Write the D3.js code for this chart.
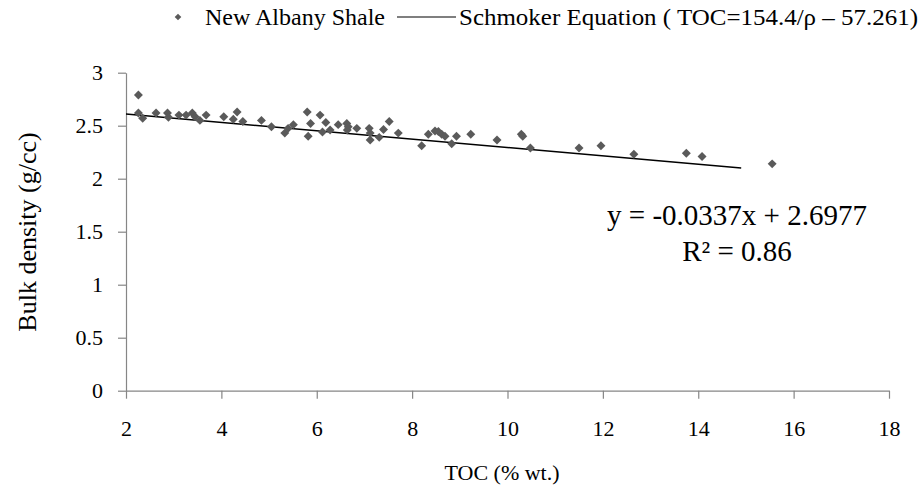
<!DOCTYPE html>
<html>
<head>
<meta charset="utf-8">
<script src="https://cdn.jsdelivr.net/npm/d3@7/dist/d3.min.js"></script>
<style>
  body { margin: 0; background: #fff; }
  #chart text { font-family: 'Liberation Serif' !important; }
</style>
</head>
<body>
<svg id="chart" width="924" height="491" font-family="Liberation Serif"></svg>
<script>
// New Albany Shale - bulk density vs TOC
const tocValues = [2.26, 2.26, 2.35, 2.63, 2.87, 2.89, 3.11, 3.26, 3.39, 3.45, 3.55, 3.68, 4.05, 4.25, 4.33, 4.45,
  4.84, 5.05, 5.33, 5.40, 5.51, 5.80, 5.82, 5.87, 6.07, 6.12, 6.19, 6.28, 6.45, 6.63, 6.64, 6.66, 6.84,
  7.10, 7.12, 7.12, 7.31, 7.40, 7.52, 7.71, 8.20, 8.34, 8.48, 8.55, 8.62, 8.69, 8.83, 8.93, 9.23, 9.78,
  10.29, 10.32, 10.48, 11.50, 11.96, 12.65, 13.75, 14.08, 15.55];
const densityValues = [2.79, 2.62, 2.57, 2.62, 2.62, 2.58, 2.60, 2.60, 2.62, 2.585, 2.55, 2.60, 2.585, 2.56, 2.63, 2.54,
  2.55, 2.49, 2.43, 2.475, 2.51, 2.63, 2.40, 2.52, 2.60, 2.44, 2.53, 2.46, 2.51, 2.52, 2.46, 2.49, 2.475,
  2.475, 2.43, 2.365, 2.39, 2.465, 2.54, 2.43, 2.31, 2.42, 2.45, 2.445, 2.42, 2.40, 2.33, 2.40, 2.42, 2.365,
  2.42, 2.40, 2.29, 2.29, 2.31, 2.23, 2.24, 2.21, 2.14];

// Schmoker line end points as drawn
const lineToc = [2, 14.9];
const lineDensity = [2.61, 2.10];

const xTicks = [2, 4, 6, 8, 10, 12, 14, 16, 18];
const yTicks = [0, 0.5, 1, 1.5, 2, 2.5, 3];

const seriesName = 'New Albany Shale';
const lineName = 'Schmoker Equation ( TOC=154.4/\u03c1 \u2013 57.261)';
const fitLines = ['y = -0.0337x + 2.6977', 'R\u00b2 = 0.86'];

const fontName = 'Liberation Serif';

const margin = { top: 72.7, right: 35, bottom: 100.3, left: 126 };
const width = 924 - margin.left - margin.right;
const height = 491 - margin.top - margin.bottom;
const axisColor = '#868686';
const markColor = '#5a5a5a';

const svg = d3.select('#chart');
const g = svg.append('g')
  .attr('transform', `translate(${margin.left},${margin.top})`);

const xScale = d3.scaleLinear().domain([2, 18]).range([0, width]);
const yScale = d3.scaleLinear().domain([0, 3]).range([height, 0]);

const xAxis = g.append('g')
  .attr('transform', `translate(0,${height})`)
  .call(d3.axisBottom(xScale).tickValues(xTicks).tickSize(8).tickSizeOuter(0).tickPadding(22).tickFormat(d3.format('d')));

const yAxis = g.append('g')
  .call(d3.axisLeft(yScale).tickValues(yTicks).tickSize(8).tickSizeOuter(0).tickPadding(15).tickFormat(d3.format('~g')));

[xAxis, yAxis].forEach(ax => {
  ax.attr('font-family', fontName).attr('font-size', 22);
  ax.selectAll('path, line').attr('stroke', axisColor).attr('stroke-width', 1.2);
  ax.selectAll('text').attr('fill', '#000').attr('font-family', fontName);
});

// trend line
const lineData = lineToc.map((t, i) => ({ x: t, y: lineDensity[i] }));
g.append('path')
  .datum(lineData)
  .attr('d', d3.line().x(d => xScale(d.x)).y(d => yScale(d.y)))
  .attr('fill', 'none')
  .attr('stroke', '#000')
  .attr('stroke-width', 1.5);

const points = tocValues.map((t, i) => ({ x: t, y: densityValues[i] }));
const diamond = d3.symbol().type(d3.symbolSquare).size(40);

g.selectAll('.pt')
  .data(points)
  .enter()
  .append('path')
  .attr('class', 'pt')
  .attr('d', diamond)
  .attr('transform', d => `translate(${xScale(d.x)},${yScale(d.y)}) rotate(45)`)
  .attr('fill', markColor);

// regression text
svg.selectAll('.fit')
  .data(fitLines)
  .enter()
  .append('text')
  .attr('class', 'fit')
  .attr('x', 737)
  .attr('y', (d, i) => 225 + i * 36)
  .attr('text-anchor', 'middle')
  .attr('font-family', fontName)
  .attr('font-size', 29)
  .text(d => d);

// axis titles
svg.append('text')
  .attr('transform', 'translate(36,232) rotate(-90)')
  .attr('text-anchor', 'middle')
  .attr('font-family', fontName)
  .attr('font-size', 26)
  .text('Bulk density (g/cc)');

svg.append('text')
  .attr('x', 502)
  .attr('y', 480)
  .attr('text-anchor', 'middle')
  .attr('font-family', fontName)
  .attr('font-size', 22)
  .text('TOC (% wt.)');

// legend
const legend = svg.append('g').attr('transform', 'translate(0,17)');
legend.append('path')
  .attr('d', d3.symbol().type(d3.symbolSquare).size(22))
  .attr('transform', 'translate(178,0) rotate(45)')
  .attr('fill', markColor);
legend.append('text')
  .attr('x', 205)
  .attr('y', 8)
  .attr('font-family', fontName)
  .attr('font-size', 24)
  .text(seriesName);
legend.append('line')
  .attr('x1', 397).attr('x2', 456)
  .attr('y1', 0).attr('y2', 0)
  .attr('stroke', '#000')
  .attr('stroke-width', 1.2);
legend.append('text')
  .attr('x', 459)
  .attr('y', 8)
  .attr('font-family', fontName)
  .attr('font-size', 24)
  .attr('textLength', 459)
  .attr('lengthAdjust', 'spacingAndGlyphs')
  .text(lineName);
</script>
</body>
</html>
